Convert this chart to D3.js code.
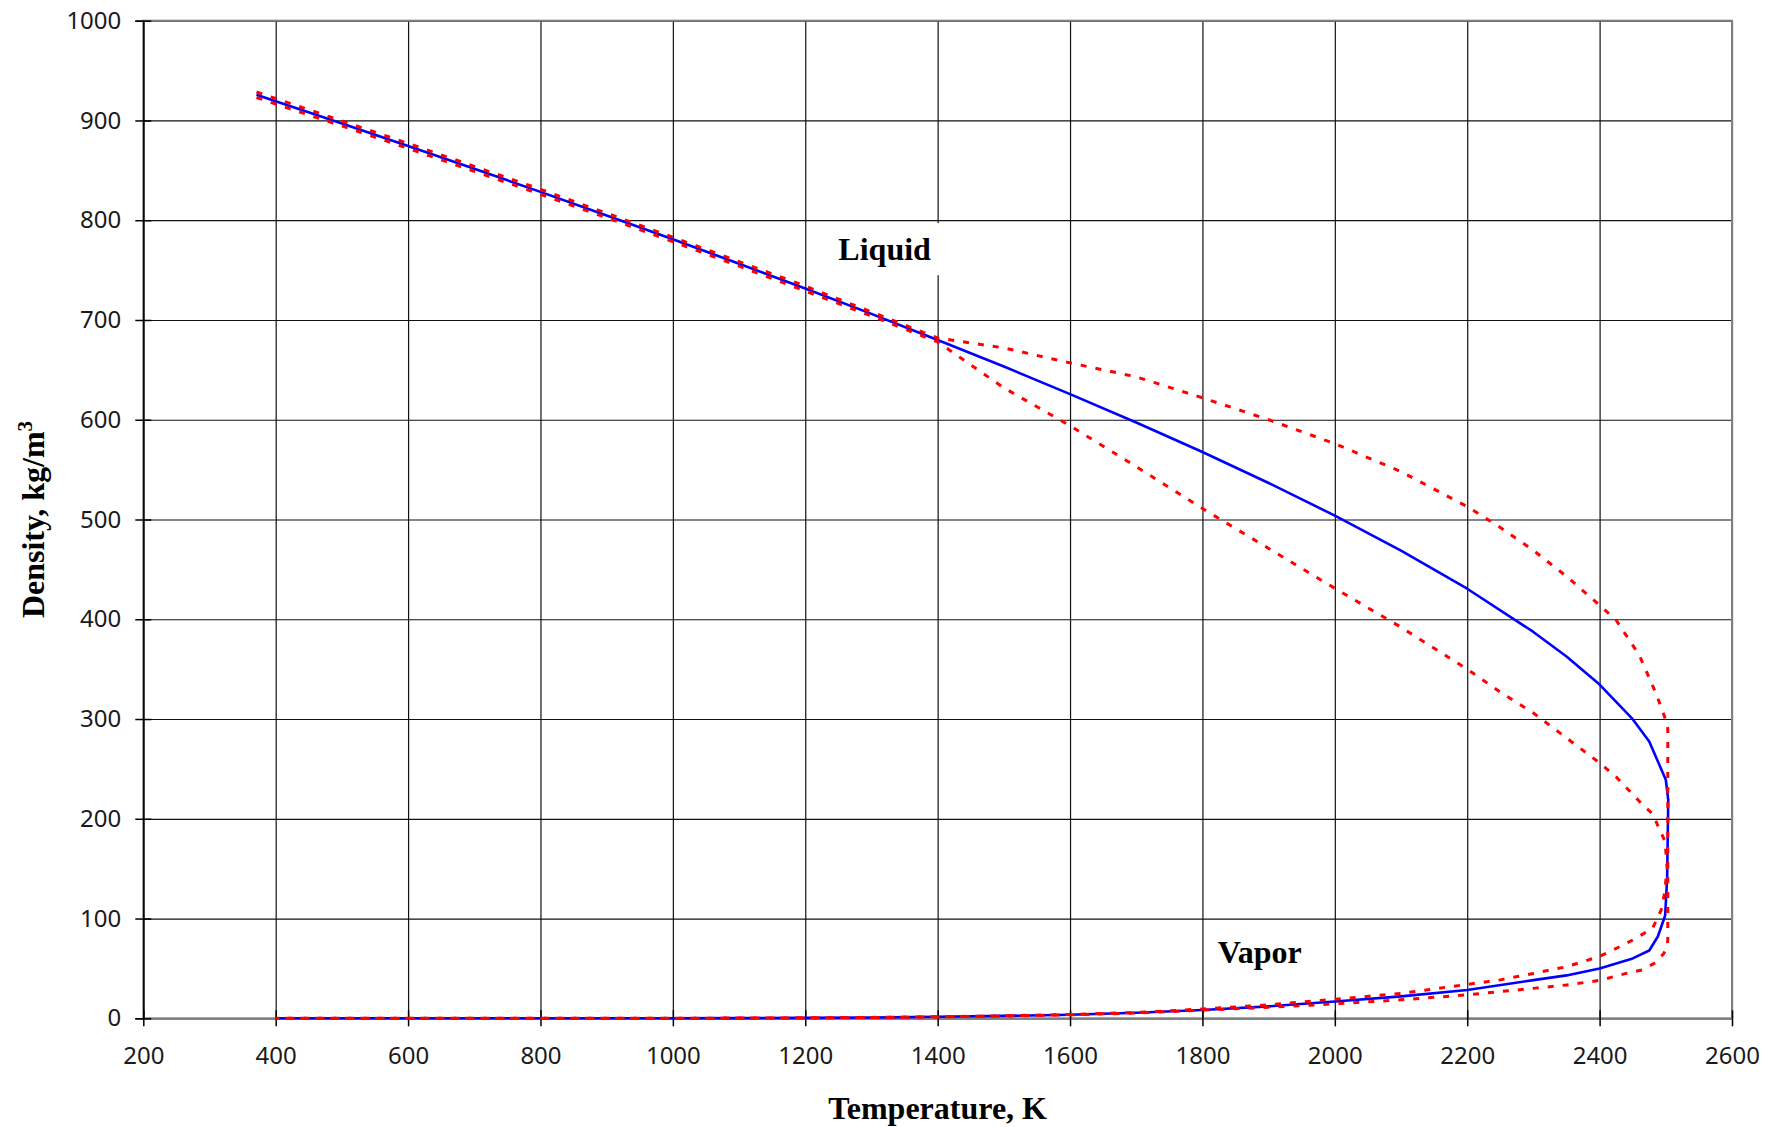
<!DOCTYPE html>
<html>
<head>
<meta charset="utf-8">
<script src="https://cdn.jsdelivr.net/npm/d3@7"></script>
<style>
  body { margin: 0; background: #fff; }
  svg { display: block; }
</style>
</head>
<body>
<div id="svg-area"></div>
<script>
// Recommended saturated densities, kg/m3 (solid blue line)
var liquidTemp = [371, 400, 500, 600, 700, 800, 900, 1000, 1100, 1200, 1300, 1400, 1500, 1600,
  1700, 1800, 1900, 2000, 2100, 2200, 2300, 2350, 2400, 2450, 2475, 2500];
var liquidDensity = [925.7, 919.3, 897.0, 874.4, 851.6, 828.4, 804.8, 780.9, 756.4, 731.5, 706.1, 680.0, 653.3, 625.7,
  597.2, 567.6, 536.6, 503.9, 468.8, 430.6, 387.3, 362.7, 334.5, 299.8, 277.5, 239.1];
var vaporTemp = [400, 500, 600, 700, 800, 900, 1000, 1100, 1200, 1300, 1400, 1500, 1600, 1700,
  1800, 1900, 2000, 2100, 2200, 2300, 2350, 2400, 2450, 2475, 2488, 2499, 2502];
var vaporDensity = [0, 0, 0, 0, 0.02, 0.05, 0.1, 0.2, 0.45, 0.85, 1.5, 2.4, 3.6, 5.5,
  8.3, 12, 16.8, 22, 28.4, 38.3, 43, 50, 60, 68, 82, 103, 140];
var criticalTemp = 2503.7;
var criticalDensity = 219;

// Uncertainty bounds (red dotted lines)
var liquidHighTemp = [371, 400, 500, 600, 700, 800, 900, 1000, 1100, 1200, 1300, 1400, 1500, 1600,
  1700, 1800, 1900, 2000, 2100, 2200, 2250, 2300, 2350, 2400, 2425, 2460, 2485, 2500, 2503];
var liquidHighDensity = [928.5, 922, 899.5, 877, 854, 831, 807, 783, 758.5, 734, 708, 682, 672, 657,
  643, 622, 600, 576, 548, 513, 492, 469, 443, 414, 399, 364, 326, 299, 290];
var liquidLowTemp = [371, 400, 500, 600, 700, 800, 900, 1000, 1100, 1200, 1300, 1400, 1500, 1600,
  1700, 1800, 1900, 2000, 2100, 2200, 2250, 2300, 2350, 2400, 2425, 2465, 2480, 2499];
var liquidLowDensity = [923, 916.5, 894.5, 872, 849, 826, 802.5, 778.5, 754, 729, 704, 678, 632, 594,
  553, 511, 471, 431, 392, 350, 327, 306, 281, 256, 242, 214, 205, 177];
var vaporHighTemp = [400, 500, 600, 700, 800, 900, 1000, 1100, 1200, 1300, 1400, 1500, 1600, 1700,
  1800, 1900, 2000, 2100, 2200, 2250, 2300, 2350, 2400, 2425, 2450, 2480, 2493, 2498, 2502];
var vaporHighDensity = [0, 0, 0, 0, 0, 0.05, 0.1, 0.2, 0.5, 0.9, 1.5, 2.5, 3.8, 5.8,
  9.3, 13.5, 19, 25, 34, 38.5, 45, 51.7, 62, 70, 78.5, 90, 108.6, 125, 150];
var vaporLowTemp = [400, 500, 600, 700, 800, 900, 1000, 1100, 1200, 1300, 1400, 1500, 1600, 1700,
  1800, 1900, 2000, 2100, 2200, 2300, 2350, 2400, 2440, 2465, 2485, 2497, 2501, 2503];
var vaporLowDensity = [0, 0, 0, 0, 0, 0.05, 0.1, 0.2, 0.4, 0.8, 1.4, 2.3, 3.5, 5.3,
  8.2, 11, 14.5, 18.5, 23.5, 30, 33.4, 38, 45, 48.5, 56, 65, 70, 78];

var tempTicks = [200, 400, 600, 800, 1000, 1200, 1400, 1600, 1800, 2000, 2200, 2400, 2600];
var densityTicks = [0, 100, 200, 300, 400, 500, 600, 700, 800, 900, 1000];

var labelText = ["Liquid", "Vapor"];
var labelTemp = [1250, 1823];
var labelDensity = [760, 55];

// setup for margins and plot area
var W = 1767, H = 1127;
var margin = { top: 20.7, right: 35, bottom: 108.7, left: 143.3 };
var width = W - margin.left - margin.right;
var height = H - margin.top - margin.bottom;

var x = d3.scaleLinear().domain([200, 2600]).range([0, width]);
var y = d3.scaleLinear().domain([0, 1000]).range([height, 0]);

var svg = d3.select('#svg-area')
  .append('svg')
  .attr('width', W)
  .attr('height', H);

var g = svg.append('g')
  .attr('transform', `translate(${margin.left}, ${margin.top})`);

// grid lines
g.append('g')
  .attr('transform', `translate(0, ${height})`)
  .call(d3.axisBottom(x).tickValues(tempTicks).tickSize(-height).tickFormat(''))
  .call(a => a.select('.domain').remove())
  .selectAll('line').attr('stroke', '#111').attr('stroke-width', 1.2);

g.append('g')
  .call(d3.axisLeft(y).tickValues(densityTicks).tickSize(-width).tickFormat(''))
  .call(a => a.select('.domain').remove())
  .selectAll('line').attr('stroke', '#111').attr('stroke-width', 1.2);

// outer frame
g.append('rect')
  .attr('width', width)
  .attr('height', height)
  .attr('fill', 'none')
  .attr('stroke', '#808080')
  .attr('stroke-width', 2);

// axes with crossing tick marks
var xAxis = g.append('g')
  .attr('transform', `translate(0, ${height})`)
  .call(d3.axisBottom(x).tickValues(tempTicks).tickSize(8).tickPadding(21).tickFormat(d3.format('d')));
xAxis.select('.domain').remove();
xAxis.selectAll('.tick line').attr('y1', -8).attr('stroke', '#000').attr('stroke-width', 1.5);

var yAxis = g.append('g')
  .call(d3.axisLeft(y).tickValues(densityTicks).tickSize(8).tickPadding(14).tickFormat(d3.format('d')));
yAxis.select('.domain').attr('stroke', '#000').attr('stroke-width', 1.5);
yAxis.selectAll('.tick line').attr('x1', 8).attr('stroke', '#000').attr('stroke-width', 1.5);

svg.selectAll('.tick text')
  .attr('font-family', "'Noto Sans', sans-serif")
  .attr('font-size', '24px')
  .attr('fill', '#1a1a1a');

// region labels on white boxes
var labels = g.selectAll('.region-label')
  .data(labelText)
  .join('g')
  .attr('class', 'region-label');

labels.append('text')
  .attr('x', (d, i) => x(labelTemp[i]))
  .attr('y', (d, i) => y(labelDensity[i]))
  .text(d => d)
  .attr('font-family', "'Liberation Serif', 'Times New Roman', serif")
  .attr('font-size', '32px')
  .attr('font-weight', '700')
  .attr('fill', '#000');

labels.each(function () {
  var grp = d3.select(this);
  var bb = grp.select('text').node().getBBox();
  grp.insert('rect', 'text')
    .attr('x', bb.x - 9)
    .attr('y', bb.y - 8)
    .attr('width', bb.width + 24)
    .attr('height', bb.height + 16)
    .attr('fill', '#fff');
});

// curves
var line = d3.line()
  .x(d => x(d[0]))
  .y(d => y(d[1]));

function pairs(ts, vs) {
  return ts.map((t, i) => [t, vs[i]]);
}

var recommended = pairs(liquidTemp, liquidDensity)
  .concat([[criticalTemp, criticalDensity]])
  .concat(pairs(vaporTemp, vaporDensity).reverse());
var outerBound = pairs(liquidHighTemp, liquidHighDensity)
  .concat(pairs(vaporLowTemp, vaporLowDensity).reverse());
var innerBound = pairs(liquidLowTemp, liquidLowDensity)
  .concat(pairs(vaporHighTemp, vaporHighDensity).reverse());

g.append('path')
  .datum(recommended)
  .attr('d', line)
  .attr('fill', 'none')
  .attr('stroke', '#0000ff')
  .attr('stroke-width', 2.6)
  .attr('stroke-linejoin', 'round');

g.selectAll('.bound')
  .data([outerBound, innerBound])
  .join('path')
  .attr('class', 'bound')
  .attr('d', line)
  .attr('fill', 'none')
  .attr('stroke', '#ff0000')
  .attr('stroke-width', 3)
  .attr('stroke-dasharray', '6 9');

// axis titles
svg.append('text')
  .attr('x', margin.left + width / 2)
  .attr('y', 1119)
  .attr('text-anchor', 'middle')
  .attr('font-family', "'Liberation Serif', 'Times New Roman', serif")
  .attr('font-size', '32px')
  .attr('font-weight', '700')
  .text('Temperature, K');

var yTitle = svg.append('text')
  .attr('transform', `translate(44, ${margin.top + height / 2}) rotate(-90)`)
  .attr('text-anchor', 'middle')
  .attr('font-family', "'Liberation Serif', 'Times New Roman', serif")
  .attr('font-size', '32px')
  .attr('font-weight', '700');
yTitle.append('tspan').text('Density, kg/m');
yTitle.append('tspan').attr('dy', -12).attr('font-size', '21px').text('3');
</script>
</body>
</html>
